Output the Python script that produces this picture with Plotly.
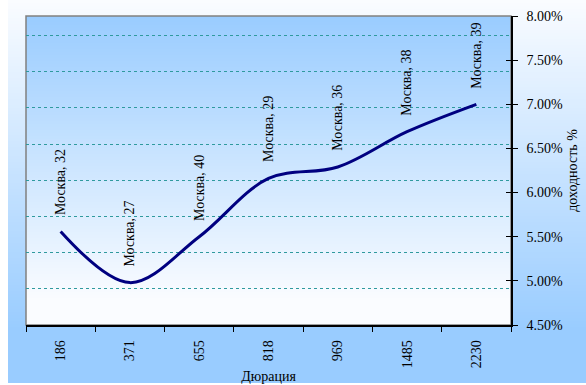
import plotly.graph_objects as go

# ---- data ----
durations = ["186", "371", "655", "818", "969", "1485", "2230"]
yields = [5.56, 4.98, 5.50, 6.16, 6.29, 6.69, 7.00]
issues = ["Москва, 32", "Москва, 27", "Москва, 40", "Москва, 29",
          "Москва, 36", "Москва, 38", "Москва, 39"]
y_ticks = [4.5, 5.0, 5.5, 6.0, 6.5, 7.0, 7.5, 8.0]
title_text = "Кривая доходности облигаций Москвы"
x_title = "Дюрация"
y_title = "доходность %"

W, H = 586, 385
L, R, T, B = 26, 75, 16, 60
PW, PH = W - L - R, H - T - B
FONT = "Liberation Serif, Times New Roman, serif"
GRID_RANGE = PH / 36.2


def px_x(p):
    return (p - L) / PW


def px_y(p):
    return (H - B - p) / PH


def mix(c1, c2, t):
    t = max(0.0, min(1.0, t))
    return "rgb(%d,%d,%d)" % tuple(round(a + (b - a) * t) for a, b in zip(c1, c2))


WHITE = (250, 252, 255)
BLUE = (153, 204, 255)

shapes = []
step = 3
# chart area gradient (white top -> blue bottom), kept outside the plot area
for y0 in range(0, 383, step):
    y1 = min(y0 + step, 383)
    col = mix(WHITE, BLUE, (y0 + step / 2) / 330)
    if y1 <= T or y0 >= H - B:
        pieces = [(8, W + 2)]
    else:
        pieces = [(8, L), (W - R, W + 2)]
    for xa, xb in pieces:
        shapes.append(dict(type="rect", xref="paper", yref="paper", layer="below",
                           x0=px_x(xa), x1=px_x(xb), y0=px_y(y0), y1=px_y(y1),
                           line=dict(width=0), fillcolor=col))
# plot area gradient (blue top -> white bottom), in subplot layer below grid
for y0 in range(T, H - B, step):
    y1 = min(y0 + step, H - B)
    col = mix(BLUE, WHITE, (y0 + step / 2 - T) / (300 - T))
    shapes.append(dict(type="rect", xref="x domain", yref="y", layer="below",
                       x0=0, x1=1, y0=px_y(y0) * GRID_RANGE, y1=px_y(y1) * GRID_RANGE,
                       line=dict(width=0), fillcolor=col))
# plot area border
shapes.append(dict(type="rect", xref="paper", yref="paper", layer="below",
                   x0=0, x1=1, y0=0, y1=1, line=dict(color="#808080", width=1.5)))

fig = go.Figure()
fig.add_trace(go.Scatter(
    x=durations, y=yields, yaxis="y2", mode="lines",
    line=dict(color="#000080", width=3, shape="spline", smoothing=1.0),
    hoverinfo="skip", showlegend=False))

annotations = []
for i, (yv, lab) in enumerate(zip(yields, issues)):
    annotations.append(dict(x=i, y=yv, xref="x", yref="y2", text=lab, textangle=-90,
                            showarrow=False, xanchor="center", yanchor="bottom", yshift=14,
                            font=dict(family=FONT, size=14, color="black")))
annotations.append(dict(x=px_x(283), y=px_y(0), xref="paper", yref="paper", text="<b>" + title_text + "</b>",
                        showarrow=False, xanchor="center", yanchor="bottom",
                        font=dict(family=FONT, size=14, color="black")))

fig.update_layout(
    width=W, height=H,
    margin=dict(l=L, r=R, t=T, b=B, pad=0, autoexpand=False),
    paper_bgcolor="white", plot_bgcolor="rgba(0,0,0,0)",
    shapes=shapes, annotations=annotations,
    font=dict(family=FONT, size=14, color="black"),
    xaxis=dict(type="category", showgrid=False, showline=True, linecolor="black", linewidth=1.5,
               ticks="outside", tickson="boundaries", ticklen=5, tickcolor="black",
               tickangle=-90, ticklabelstandoff=8, automargin=False,
               tickfont=dict(family=FONT, size=14),
               title=dict(text=x_title, font=dict(family=FONT, size=14), standoff=4),
               range=[-0.5, len(durations) - 0.5]),
    yaxis=dict(range=[0, GRID_RANGE], dtick=1, showgrid=True, griddash="dot",
               gridcolor="#2f9a9e", gridwidth=1, showticklabels=False, showline=False,
               zeroline=False, ticks="", automargin=False),
    yaxis2=dict(overlaying="y", side="right", anchor="x", range=[4.5, 8.0],
                tickvals=y_ticks, ticktext=["%.2f%%" % v for v in y_ticks],
                showgrid=False, zeroline=False, showline=True, linecolor="black", linewidth=1.5,
                ticks="outside", ticklen=5, tickcolor="black", ticklabelstandoff=6,
                automargin=False, tickfont=dict(family=FONT, size=14),
                title=dict(text=y_title, font=dict(family=FONT, size=14), standoff=5)),
    yaxis3=dict(overlaying="y", side="right", anchor="x", range=[4.5, 8.0],
                tickvals=y_ticks, showticklabels=False, showgrid=False, zeroline=False,
                showline=False, ticks="inside", ticklen=5, tickcolor="black", automargin=False),
)
fig.add_trace(go.Scatter(x=[durations[0]], y=[None], yaxis="y3", showlegend=False, hoverinfo="skip"))

fig.write_html("out.html")
